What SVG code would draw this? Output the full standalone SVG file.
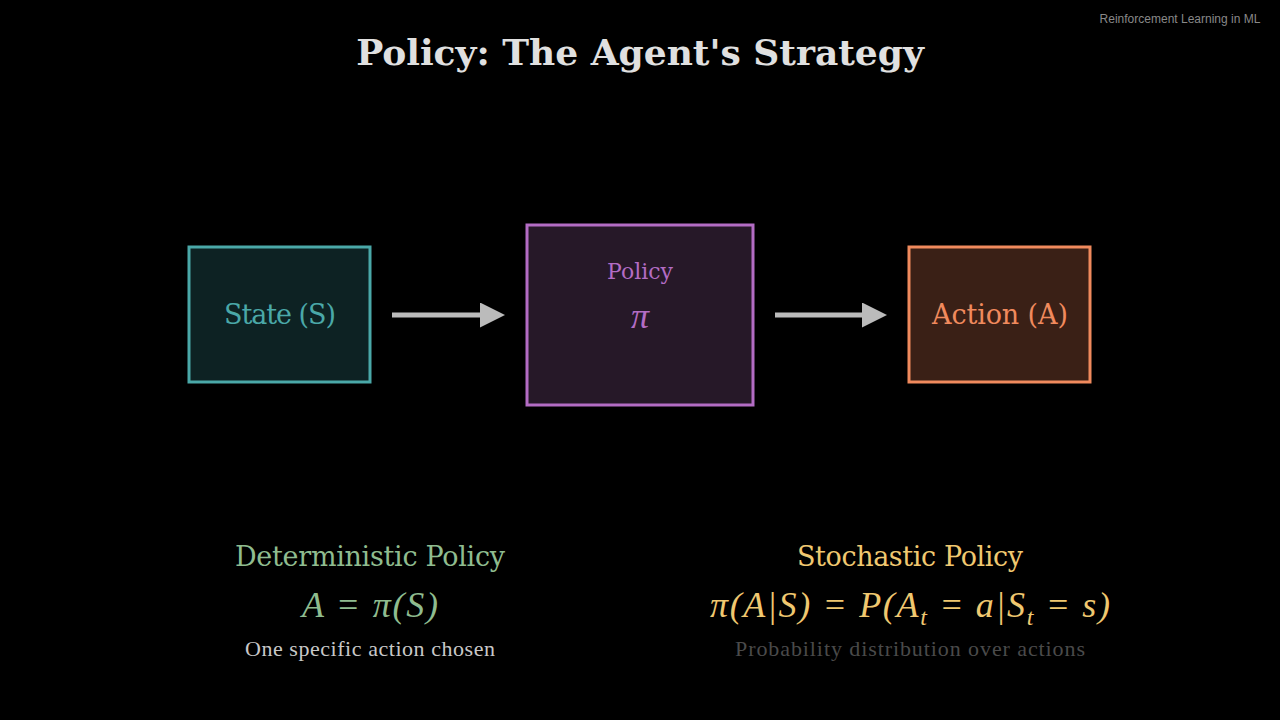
<svg xmlns="http://www.w3.org/2000/svg" width="1280" height="720" viewBox="0 0 1280 720">
<defs>
<style>
text{font-family:"DejaVu Serif","Liberation Serif",serif;text-anchor:middle}
.lbl{font-size:27px}
.m{font-family:"Liberation Serif",serif;font-style:italic;font-size:36px}
.s{font-family:"Liberation Serif",serif;font-size:22px}
</style>
<marker id="ah" viewBox="0 0 10 10" refX="0" refY="5" markerWidth="5" markerHeight="5" orient="auto" markerUnits="strokeWidth"><path d="M0,0L10,5L0,10z" fill="#bbbbbb"/></marker>
</defs>
<rect width="1280" height="720" fill="#000"/>
<text x="1180" y="23" style="font-family:'Liberation Sans',sans-serif" font-size="12" fill="#888">Reinforcement Learning in ML</text>
<text x="640" y="65" font-size="36" font-weight="bold" fill="#e0e0e0">Policy: The Agent's Strategy</text>
<g id="state"><rect x="189" y="247" width="181" height="135" fill="#0d2223" stroke="#4aa8a8" stroke-width="3"/><text x="280" y="324" class="lbl" fill="#4aa8a8" textLength="112">State (S)</text></g>
<g id="policy"><rect x="527" y="225" width="226" height="180" fill="#261828" stroke="#b36cc4" stroke-width="3"/><text x="640" y="279" font-size="22" fill="#b36cc4">Policy</text><text x="640" y="328" class="m" font-size="48" fill="#b36cc4">π</text></g>
<g id="action"><rect x="909" y="247" width="181" height="135" fill="#3a2016" stroke="#f08a5d" stroke-width="3"/><text x="1000" y="324" class="lbl" fill="#f08a5d" textLength="136">Action (A)</text></g>
<g id="connectors" stroke="#bbbbbb" stroke-width="5" fill="none">
<line x1="392" y1="315" x2="480" y2="315" marker-end="url(#ah)"/>
<line x1="775" y1="315" x2="862" y2="315" marker-end="url(#ah)"/>
</g>
<g id="det"><text x="370" y="566" font-size="27" fill="#8fbc8f" textLength="270">Deterministic Policy</text><text x="370" y="617" class="m" fill="#8fbc8f" textLength="136" lengthAdjust="spacing">A = π(S)</text><text x="370" y="656" class="s" fill="#c8c8c8" textLength="250">One specific action chosen</text></g>
<g id="sto"><text x="910" y="566" font-size="27" fill="#f0c870" textLength="226">Stochastic Policy</text><text x="910" y="617" class="m" fill="#f0c870" textLength="400" lengthAdjust="spacing">π(A|S) = P(A<tspan font-size="24" dy="8">t</tspan><tspan dy="-8"> = a|S</tspan><tspan font-size="24" dy="8">t</tspan><tspan dy="-8"> = s)</tspan></text><text x="910" y="656" class="s" fill="#4a4a4a" textLength="350">Probability distribution over actions</text></g>
</svg>
